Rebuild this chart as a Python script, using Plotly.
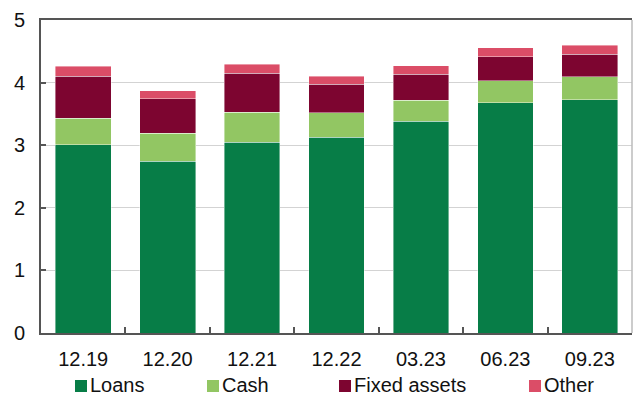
import plotly.graph_objects as go

categories = ["12.19", "12.20", "12.21", "12.22", "03.23", "06.23", "09.23"]
loans = [3.01, 2.74, 3.05, 3.13, 3.38, 3.68, 3.73]
cash = [0.42, 0.45, 0.48, 0.39, 0.34, 0.35, 0.36]
fixed_assets = [0.67, 0.555, 0.62, 0.45, 0.41, 0.38, 0.365]
other = [0.16, 0.125, 0.14, 0.13, 0.14, 0.15, 0.145]

names = ["Loans", "Cash", "Fixed assets", "Other"]
colors = ["#077D47", "#92C663", "#7D0530", "#DB4D67"]
values = [loans, cash, fixed_assets, other]
legend_square_x = [75, 207, 339, 529]  # pixel left edge of legend keys

W, H = 633, 397
L, R, T, B = 41, 1, 20, 64
PW, PH = W - L - R, H - T - B
FONT = dict(family="Liberation Sans, Arial, sans-serif", size=20, color="#111111")


def px_x(px):
    return (px - L) / PW


def px_y(py):
    return (H - B - py) / PH


fig = go.Figure()
for name, vals, color in zip(names, values, colors):
    fig.add_trace(go.Bar(
        x=categories, y=vals, name=name, showlegend=False,
        marker=dict(color=color, line=dict(color="rgba(255,255,255,0.6)", width=0.7)),
    ))

# legend (keys + labels) below the plot
for name, color, sx in zip(names, colors, legend_square_x):
    fig.add_shape(type="rect", xref="paper", yref="paper",
                  x0=px_x(sx), x1=px_x(sx + 12), y0=px_y(392), y1=px_y(380),
                  fillcolor=color, line=dict(width=0))
    fig.add_annotation(text=name, xref="paper", yref="paper",
                       x=px_x(sx + 14), y=px_y(397), xanchor="left", yanchor="bottom",
                       showarrow=False, font=FONT, borderpad=0)

fig.update_layout(
    barmode="stack",
    bargap=0.34,
    width=W, height=H,
    margin=dict(l=L, r=R, t=T, b=B, autoexpand=False),
    plot_bgcolor="white", paper_bgcolor="white",
    font=FONT,
    showlegend=False,
)
fig.update_xaxes(
    type="category", showline=True, linecolor="#555555", linewidth=2, mirror=True,
    ticks="inside", tickson="boundaries", ticklen=6, tickcolor="#555555", tickwidth=1.5,
    showgrid=False, ticklabelstandoff=7, automargin=False,
)
fig.update_yaxes(
    range=[0, 5], dtick=1, showline=True, linecolor="#555555", linewidth=2,
    ticks="inside", ticklen=5, tickcolor="#555555", tickwidth=1.5,
    showgrid=True, gridcolor="#D3D3D3", gridwidth=1, zeroline=False,
    ticklabelstandoff=10, automargin=False,
)
fig.add_shape(type="line", xref="paper", yref="paper", x0=1, x1=1, y0=0, y1=1,
              line=dict(color="#BBBBBB", width=1.5))

fig.write_html(
    "out.html",
    config={"displayModeBar": False},
    post_script="document.body.style.margin='0';document.body.style.overflow='hidden';",
)
